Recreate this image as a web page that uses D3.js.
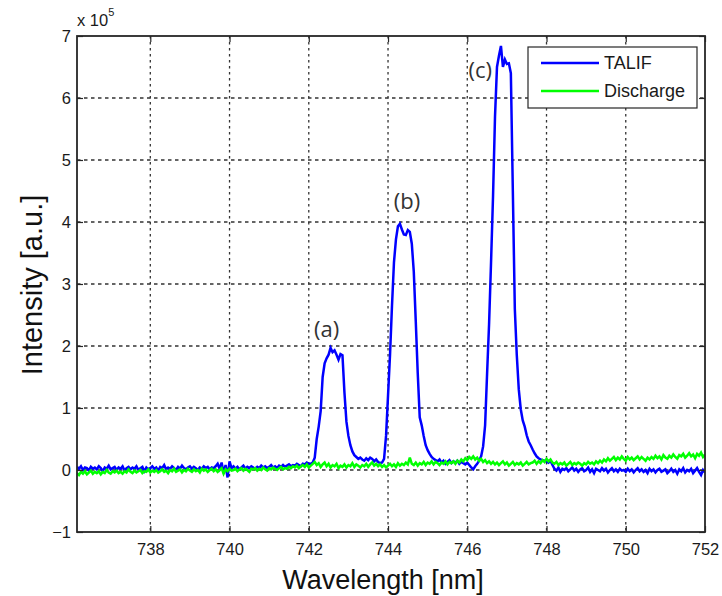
<!DOCTYPE html>
<html>
<head>
<meta charset="utf-8">
<script src="https://cdn.jsdelivr.net/npm/d3@7/dist/d3.min.js"></script>
<style>
  body { margin: 0; background: #fff; }
  svg text { font-family: "Liberation Sans", Arial, sans-serif; }
</style>
</head>
<body>
<svg id="chart" width="722" height="596"></svg>
<script>
// Spectrometer sampling grid (nm): first pixel and pixel spacing
const wavelengthStart = 736.15;
const wavelengthStep = 0.05;

// Axis ticks
const xTickValues = [738, 740, 742, 744, 746, 748, 750, 752];
const yTickValues = [-1, 0, 1, 2, 3, 4, 5, 6, 7];

// Series names
const seriesNames = ["TALIF", "Discharge"];

// TALIF signal, in units of 1e5 counts
const talif = [
  0.05, 0.02, 0.06, 0.00, 0.04, 0.03, -0.01, 0.05, 0.02, 0.04,
  0.01, 0.06, 0.03, -0.02, 0.04, 0.02, 0.07, 0.01, 0.03, 0.05,
  0.00, 0.04, 0.02, 0.06, -0.01, 0.03, 0.05, 0.01, 0.04, 0.02,
  0.06, 0.00, 0.03, 0.05, -0.02, 0.04, 0.01, 0.03, 0.06, 0.02,
  0.04, -0.01, 0.05, 0.03, 0.08, 0.01, 0.04, 0.02, 0.06, 0.03,
  0.00, 0.05, 0.02, 0.07, 0.03, 0.01, 0.04, 0.06, 0.02, 0.05,
  0.03, 0.00, 0.04, 0.02, 0.06, 0.03, 0.05, 0.01, 0.04, 0.03,
  0.06, 0.10, 0.02, 0.12, -0.05, 0.08, -0.12, 0.14, 0.03, 0.06,
  0.02, 0.05, 0.01, 0.04, 0.07, 0.02, 0.05, 0.03, 0.06, 0.04,
  0.02, 0.05, 0.03, 0.07, 0.04, 0.06, 0.03, 0.05, 0.08, 0.04,
  0.06, 0.03, 0.07, 0.05, 0.08, 0.05, 0.07, 0.09, 0.06, 0.08,
  0.07, 0.10, 0.08, 0.06, 0.10, 0.09, 0.12, 0.10,
  0.10, 0.12, 0.20, 0.50, 0.70, 0.95, 1.50, 1.72, 1.80, 1.86, 1.97, 1.90, 1.93,
  1.86, 1.78, 1.87, 1.85, 1.25, 0.78, 0.55, 0.40, 0.30, 0.24, 0.21, 0.18, 0.20,
  0.17, 0.15, 0.19, 0.16, 0.20, 0.18, 0.14, 0.17, 0.13, 0.11,
  0.12, 0.18, 0.55, 1.20, 1.85, 2.65, 3.35, 3.72, 3.93, 3.97, 3.88, 3.80, 3.79,
  3.87, 3.84, 3.65, 3.20, 2.40, 1.56, 0.85, 0.72, 0.55, 0.40, 0.32, 0.26, 0.21, 0.18,
  0.16, 0.14, 0.17, 0.12, 0.15, 0.10, 0.13, 0.16, 0.11, 0.14, 0.12, 0.15, 0.10,
  0.13, 0.11, 0.09, 0.12,
  0.08, 0.04, 0.01, 0.06, 0.10, 0.15, 0.22, 0.38, 0.72, 1.55,
  2.35, 3.35, 4.41, 5.70, 6.50, 6.68, 6.84, 6.50, 6.62, 6.55,
  6.56, 6.40, 4.50, 2.60, 1.85, 1.30, 0.98, 0.80, 0.70, 0.56,
  0.46, 0.40, 0.33, 0.27, 0.22, 0.19, 0.17, 0.16, 0.15,
  0.14, 0.12, 0.15, 0.08, 0.02, -0.01, 0.04, -0.03, 0.02, 0.00,
  0.03, -0.02, 0.01, 0.04, -0.01, 0.02, -0.03, 0.01, 0.03, -0.02,
  0.00, 0.04, -0.03, 0.01, -0.05, 0.02, 0.00, -0.02, 0.03, -0.01,
  0.02, -0.04, 0.00, 0.03, -0.02, 0.01, -0.03, 0.02, -0.01, 0.00,
  -0.03, 0.02, -0.02, 0.01, -0.04, 0.00, 0.03, -0.02, 0.01, -0.03,
  0.00, -0.05, 0.02, -0.02, 0.01, -0.04, 0.00, 0.02, -0.03, -0.01,
  0.01, -0.05, -0.02, 0.02, -0.03, 0.00, -0.06, 0.01, -0.02, 0.03,
  -0.04, 0.00, -0.02, 0.02, -0.05, -0.01, 0.03, -0.03, -0.08, 0.00, -0.04
];

// Discharge emission, in units of 1e5 counts
const discharge = [
  -0.05, -0.08, -0.03, -0.06, -0.02, -0.07, -0.04, -0.01, -0.06, -0.03,
  -0.05, -0.02, -0.07, -0.03, -0.05, 0.00, -0.04, -0.06, -0.02, -0.04,
  -0.01, -0.05, -0.03, -0.06, -0.02, -0.04, 0.01, -0.03, -0.05, -0.01,
  -0.04, -0.02, 0.00, -0.05, -0.02, -0.03, 0.01, -0.04, -0.01, -0.03,
  0.00, -0.04, -0.02, 0.01, -0.03, -0.01, -0.05, 0.00, -0.02, 0.02,
  -0.03, -0.01, 0.01, -0.04, 0.00, -0.02, 0.02, -0.01, -0.03, 0.01,
  -0.02, 0.00, -0.04, 0.02, -0.01, 0.01, -0.03, 0.00, 0.02, -0.02,
  0.01, -0.03, 0.00, 0.03, -0.06, 0.01, -0.02, 0.02, -0.01, 0.00,
  0.02, -0.02, 0.01, 0.03, -0.01, 0.02, 0.00, -0.03, 0.02, 0.01,
  0.03, -0.01, 0.02, 0.00, 0.04, 0.01, -0.01, 0.03, 0.01, 0.04,
  0.02, 0.00, 0.03, 0.05, 0.01, 0.03, 0.02, 0.05, 0.03, 0.06,
  0.04, 0.07, 0.03, 0.06, 0.08, 0.05, 0.09, 0.04, 0.07, 0.10,
  0.13, 0.08, 0.11, 0.05, 0.09, 0.12, 0.06, 0.10, 0.04, 0.08,
  0.06, 0.10, 0.03, 0.07, 0.05, 0.09, 0.04, 0.08, 0.06, 0.11,
  0.05, 0.09, 0.07, 0.04, 0.08, 0.06, 0.10, 0.05, 0.09, 0.12,
  0.07, 0.10, 0.06, 0.09, 0.05, 0.08, 0.04, 0.07, 0.10, 0.06,
  0.09, 0.05, 0.11, 0.07, 0.10, 0.08, 0.12, 0.09, 0.20, 0.10,
  0.08, 0.12, 0.07, 0.11, 0.09, 0.13, 0.08, 0.12, 0.10, 0.14,
  0.09, 0.13, 0.11, 0.08, 0.12, 0.10, 0.14, 0.09, 0.13, 0.11,
  0.14, 0.10, 0.15, 0.12, 0.17, 0.14, 0.19, 0.16, 0.21, 0.18,
  0.22, 0.17, 0.20, 0.15, 0.18, 0.13, 0.16, 0.11, 0.14, 0.10,
  0.13, 0.09, 0.12, 0.08, 0.11, 0.14, 0.09, 0.12, 0.07, 0.10,
  0.13, 0.08, 0.11, 0.09, 0.12, 0.07, 0.10, 0.13, 0.09, 0.11,
  0.12, 0.15, 0.10, 0.14, 0.11, 0.16, 0.13, 0.18, 0.14, 0.17,
  0.12, 0.10, 0.13, 0.08, 0.11, 0.09, 0.12, 0.07, 0.10, 0.13,
  0.08, 0.11, 0.09, 0.12, 0.10, 0.07, 0.11, 0.09, 0.13, 0.10,
  0.12, 0.09, 0.14, 0.11, 0.15, 0.12, 0.17, 0.14, 0.19, 0.15,
  0.18, 0.21, 0.16, 0.20, 0.17, 0.22, 0.18, 0.15, 0.21, 0.17,
  0.20, 0.16, 0.19, 0.22, 0.17, 0.21, 0.18, 0.15, 0.20, 0.17,
  0.21, 0.18, 0.23, 0.19, 0.22, 0.17, 0.24, 0.20, 0.18, 0.23,
  0.20, 0.25, 0.21, 0.18, 0.24, 0.22, 0.26, 0.20, 0.23, 0.27,
  0.22, 0.25, 0.19, 0.26, 0.23, 0.28, 0.21, 0.25
];

// Peak annotations, anchored in data units (wavelength nm, intensity 1e5)
const peakLabels = ["(a)", "(b)", "(c)"];
const peakLabelWavelength = [742.45, 744.48, 746.33];
const peakLabelIntensity = [2.27, 4.34, 6.45];

const svg = d3.select("#chart");
const margin = { left: 77, right: 17, top: 36, bottom: 64 };
const W = 722, H = 596;
const plotW = W - margin.left - margin.right;
const plotH = H - margin.top - margin.bottom;

const x = d3.scaleLinear()
  .domain([wavelengthStart, wavelengthStart + wavelengthStep * (talif.length - 1)])
  .range([margin.left, margin.left + plotW]);
const y = d3.scaleLinear().domain([-1, 7]).range([margin.top + plotH, margin.top]);

const wavelengths = talif.map((_, i) => wavelengthStart + i * wavelengthStep);

const axisColor = "#262626";
const textColor = "#1a1a1a";

// Dotted grid
const grid = svg.append("g");
grid.selectAll("line.gx").data(xTickValues.filter(v => v < 752)).join("line")
  .attr("x1", d => x(d)).attr("x2", d => x(d))
  .attr("y1", margin.top).attr("y2", margin.top + plotH)
  .attr("stroke", "#333").attr("stroke-width", 1.3).attr("stroke-dasharray", "2.5,3.5");
grid.selectAll("line.gy").data(yTickValues.filter(v => v > -1 && v < 7)).join("line")
  .attr("x1", margin.left).attr("x2", margin.left + plotW)
  .attr("y1", d => y(d)).attr("y2", d => y(d))
  .attr("stroke", "#333").attr("stroke-width", 1.3).attr("stroke-dasharray", "3.5,3.5");

// Data lines, clipped to the axes
svg.append("clipPath").attr("id", "plotClip").append("rect")
  .attr("x", margin.left).attr("y", margin.top).attr("width", plotW).attr("height", plotH);
const line = d3.line().x((d, i) => x(wavelengths[i])).y(d => y(d));
const plot = svg.append("g").attr("clip-path", "url(#plotClip)");
const seriesColor = d3.scaleOrdinal().domain(seriesNames).range(["#0000ff", "#00ff00"]);
plot.append("path").datum(talif).attr("d", line)
  .attr("fill", "none").attr("stroke", seriesColor("TALIF")).attr("stroke-width", 2.5)
  .attr("stroke-linejoin", "miter").attr("stroke-miterlimit", 3);
plot.append("path").datum(discharge).attr("d", line)
  .attr("fill", "none").attr("stroke", seriesColor("Discharge")).attr("stroke-width", 2.5)
  .attr("stroke-linejoin", "miter").attr("stroke-miterlimit", 3);

// Axes with inward ticks
const xAxisB = d3.axisBottom(x).tickValues(xTickValues).tickSizeInner(-6).tickSizeOuter(0).tickPadding(11);
const yAxisL = d3.axisLeft(y).tickValues(yTickValues).tickSizeInner(-6).tickSizeOuter(0).tickPadding(6);
const gx = svg.append("g").attr("transform", `translate(0,${margin.top + plotH})`).call(xAxisB);
const gy = svg.append("g").attr("transform", `translate(${margin.left},0)`).call(yAxisL);
[gx, gy].forEach(g => {
  g.select(".domain").remove();
  g.selectAll(".tick line").attr("stroke", axisColor).attr("stroke-width", 1.2);
  g.selectAll(".tick text").attr("fill", textColor).style("font-size", "16.5px")
    .style("font-family", "'Liberation Sans', Arial, sans-serif");
});
gx.selectAll(".tick text").attr("dy", "0.71em");
// top and right ticks
svg.append("g").attr("transform", `translate(0,${margin.top})`)
  .call(d3.axisTop(x).tickValues(xTickValues).tickSizeInner(-6).tickSizeOuter(0).tickFormat(""))
  .call(g => { g.select(".domain").remove(); g.selectAll("line").attr("stroke", axisColor).attr("stroke-width", 1.2); });
svg.append("g").attr("transform", `translate(${margin.left + plotW},0)`)
  .call(d3.axisRight(y).tickValues(yTickValues).tickSizeInner(-6).tickSizeOuter(0).tickFormat(""))
  .call(g => { g.select(".domain").remove(); g.selectAll("line").attr("stroke", axisColor).attr("stroke-width", 1.2); });

// Axes box
svg.append("rect").attr("x", margin.left).attr("y", margin.top)
  .attr("width", plotW).attr("height", plotH)
  .attr("fill", "none").attr("stroke", axisColor).attr("stroke-width", 1.8);

// Exponent multiplier
const expo = svg.append("text").attr("x", margin.left).attr("y", 26)
  .attr("fill", textColor).style("font-size", "16.5px");
expo.append("tspan").text("x 10");
expo.append("tspan").attr("dy", -10).style("font-size", "11px").text("5");

// Axis titles
svg.append("text").attr("x", 383).attr("y", 589).attr("text-anchor", "middle")
  .attr("fill", "#111").style("font-size", "27px").text("Wavelength [nm]");
svg.append("text").attr("transform", "translate(42,285) rotate(-90)").attr("text-anchor", "middle")
  .attr("fill", "#111").style("font-size", "29px").text("Intensity [a.u.]");

// Peak labels
svg.selectAll("text.peak").data(peakLabels).join("text")
  .attr("class", "peak")
  .attr("x", (d, i) => x(peakLabelWavelength[i]))
  .attr("y", (d, i) => y(peakLabelIntensity[i]))
  .attr("text-anchor", "middle").attr("dy", "0.35em")
  .attr("fill", "#333").style("font-family", "'Open Sans', 'Noto Sans', sans-serif")
  .style("font-size", "22px").text(d => d);

// Legend
const lg = svg.append("g").attr("transform", "translate(528,47)");
lg.append("rect").attr("width", 169).attr("height", 61)
  .attr("fill", "#fff").attr("stroke", axisColor).attr("stroke-width", 1.2);
seriesNames.forEach((name, i) => {
  const yy = 16 + i * 28;
  lg.append("line").attr("x1", 13).attr("x2", 71).attr("y1", yy).attr("y2", yy)
    .attr("stroke", seriesColor(name)).attr("stroke-width", 2.5);
  lg.append("text").attr("x", 76).attr("y", yy).attr("dy", "0.36em")
    .attr("fill", textColor).style("font-size", "18px").text(name);
});
</script>
</body>
</html>
